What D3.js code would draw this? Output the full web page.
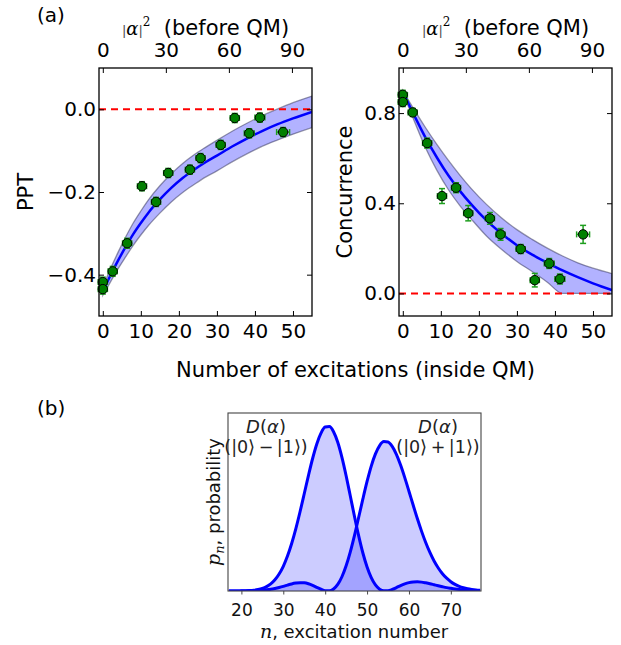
<!DOCTYPE html>
<html lang="en">
<head>
<meta charset="utf-8">
<title>Entanglement vs number of excitations</title>
<script src="https://cdnjs.cloudflare.com/ajax/libs/d3/7.8.5/d3.min.js"></script>
<style>
  body { margin: 0; background: #fff; }
  text { font-family: "DejaVu Sans", sans-serif; }
</style>
</head>
<body>
<script>
// ---- panel (a): measured points ----
const nExc   = [0, 0, 2.6, 6.4, 10.3, 14.0, 17.2, 22.9, 25.7, 31.0, 34.7, 38.5, 41.3, 47.4]
const nErr   = [1.2, 1.2, 1.2, 1.2, 1.2, 1.2, 1.2, 1.2, 1.2, 1.2, 1.2, 1.3, 1.3, 1.7]
const ppt    = [-0.418, -0.435, -0.392, -0.324, -0.186, -0.224, -0.154, -0.146, -0.118, -0.086, -0.021, -0.058, -0.020, -0.055]
const pptErr = [0.012, 0.012, 0.012, 0.012, 0.011, 0.011, 0.011, 0.011, 0.011, 0.011, 0.011, 0.011, 0.011, 0.011]
const conc   = [0.881, 0.849, 0.803, 0.667, 0.432, 0.469, 0.356, 0.333, 0.262, 0.197, 0.059, 0.133, 0.064, 0.262]
const concErr= [0.02, 0.02, 0.018, 0.022, 0.033, 0.022, 0.034, 0.026, 0.026, 0.02, 0.03, 0.022, 0.022, 0.04]

// fit curves and confidence bands
const pptFitN = [0, 2, 4, 6, 8, 10, 12, 15, 18, 21, 24, 27, 30, 34, 38, 42, 46, 50, 55]
const pptFit  = [-0.440, -0.402, -0.366, -0.333, -0.302, -0.275, -0.250, -0.218, -0.190, -0.166, -0.146, -0.128, -0.112, -0.090, -0.070, -0.052, -0.036, -0.022, -0.006]
const pptHi   = [-0.430, -0.386, -0.346, -0.309, -0.275, -0.246, -0.219, -0.185, -0.156, -0.131, -0.110, -0.092, -0.075, -0.053, -0.033, -0.015, 0.001, 0.016, 0.032]
const pptLo   = [-0.450, -0.418, -0.386, -0.357, -0.329, -0.304, -0.281, -0.251, -0.224, -0.201, -0.182, -0.164, -0.149, -0.127, -0.107, -0.089, -0.074, -0.060, -0.044]

const concFitN = [0, 3, 6, 9, 12, 15, 18, 22, 26, 30, 34, 38, 42, 46, 50, 55]
const concFit  = [0.895, 0.790, 0.690, 0.602, 0.523, 0.455, 0.395, 0.324, 0.265, 0.214, 0.172, 0.136, 0.102, 0.072, 0.045, 0.015]
const concHi   = [0.900, 0.815, 0.735, 0.660, 0.590, 0.525, 0.465, 0.395, 0.335, 0.283, 0.240, 0.201, 0.166, 0.136, 0.112, 0.088]
const concLo   = [0.890, 0.765, 0.645, 0.545, 0.460, 0.390, 0.330, 0.255, 0.195, 0.142, 0.097, 0.050, 0.000, 0.000, 0.000, 0.000]

const nDomain = [-1, 55]
const alphaSqPerN = 1.81
const bottomTicks = [0, 10, 20, 30, 40, 50]
const topTicks = [0, 30, 60, 90]

// ---- panel (b): photon number distributions ----
const pnN = d3.range(17, 78)
const pMinus = [0, 0, 0.001, 0.002, 0.003, 0.006, 0.012, 0.022, 0.039, 0.067, 0.110, 0.173, 0.263, 0.382, 0.540, 0.734, 0.964, 1.224, 1.502, 1.783, 2.047, 2.272, 2.439, 2.533, 2.541, 2.461, 2.297, 2.064, 1.780, 1.468, 1.151, 0.851, 0.587, 0.370, 0.206, 0.093, 0.028, 0.002, 0.004, 0.024, 0.053, 0.084, 0.110, 0.129, 0.139, 0.142, 0.137, 0.126, 0.113, 0.097, 0.081, 0.066, 0.052, 0.041, 0.031, 0.023, 0.017, 0.012, 0.008, 0.006, 0.004]
const pPlus  = [0, 0, 0, 0.001, 0.001, 0.002, 0.004, 0.007, 0.011, 0.018, 0.027, 0.040, 0.055, 0.072, 0.091, 0.109, 0.122, 0.129, 0.126, 0.112, 0.088, 0.057, 0.027, 0.005, 0.002, 0.031, 0.101, 0.220, 0.389, 0.605, 0.860, 1.139, 1.422, 1.692, 1.930, 2.118, 2.247, 2.308, 2.302, 2.233, 2.111, 1.946, 1.752, 1.542, 1.328, 1.119, 0.925, 0.749, 0.595, 0.464, 0.356, 0.267, 0.198, 0.144, 0.103, 0.072, 0.050, 0.034, 0.023, 0.015, 0.010]
const bTicks = [20, 30, 40, 50, 60, 70]

const svg = d3.select('body').append('svg')
    .attr('width', 621)
    .attr('height', 645)

const green = '#008000'
const errGreen = '#1e9e1e'

function scatterPanel(o) {
    const x = d3.scaleLinear().domain(nDomain).range([o.left, o.right])
    const xTop = d3.scaleLinear().domain(nDomain.map(d => d * alphaSqPerN)).range([o.left, o.right])
    const y = d3.scaleLinear().domain(o.yDomain).range([o.bottom, o.top])
    const g = svg.append('g')

    const clipId = 'clip' + o.id
    svg.append('clipPath').attr('id', clipId)
        .append('rect')
        .attr('x', o.left).attr('y', o.top)
        .attr('width', o.right - o.left).attr('height', o.bottom - o.top)
    const inner = g.append('g').attr('clip-path', `url(#${clipId})`)

    // confidence band
    const band = d3.area()
        .x(i => x(o.fitN[i]))
        .y0(i => y(o.lo[i]))
        .y1(i => y(o.hi[i]))
        .curve(d3.curveMonotoneX)
    inner.append('path')
        .datum(d3.range(o.fitN.length))
        .attr('d', band)
        .attr('fill', '#0000ff')
        .attr('fill-opacity', 0.3)
        .attr('stroke', '#202040')
        .attr('stroke-opacity', 0.45)
        .attr('stroke-width', 1.3)

    // zero line
    inner.append('line')
        .attr('x1', o.left).attr('x2', o.right)
        .attr('y1', y(0)).attr('y2', y(0))
        .attr('stroke', '#ff0000')
        .attr('stroke-width', 2)
        .attr('stroke-dasharray', '7,5')

    // fit line
    const line = d3.line()
        .x(i => x(o.fitN[i]))
        .y(i => y(o.fit[i]))
        .curve(d3.curveMonotoneX)
    inner.append('path')
        .datum(d3.range(o.fitN.length))
        .attr('d', line)
        .attr('fill', 'none')
        .attr('stroke', '#0000ff')
        .attr('stroke-width', 2.5)

    // error bars
    const idx = d3.range(nExc.length)
    const eb = g.append('g').attr('stroke', errGreen).attr('stroke-width', 1.5)
    idx.forEach(i => {
        const cx = x(nExc[i]), cy = y(o.vals[i])
        const x0 = x(nExc[i] - nErr[i]), x1 = x(nExc[i] + nErr[i])
        const y0 = y(o.vals[i] - o.errs[i]), y1 = y(o.vals[i] + o.errs[i])
        eb.append('line').attr('x1', x0).attr('x2', x1).attr('y1', cy).attr('y2', cy)
        eb.append('line').attr('x1', cx).attr('x2', cx).attr('y1', y0).attr('y2', y1)
        eb.append('line').attr('x1', x0).attr('x2', x0).attr('y1', cy - 3).attr('y2', cy + 3)
        eb.append('line').attr('x1', x1).attr('x2', x1).attr('y1', cy - 3).attr('y2', cy + 3)
        eb.append('line').attr('x1', cx - 3).attr('x2', cx + 3).attr('y1', y0).attr('y2', y0)
        eb.append('line').attr('x1', cx - 3).attr('x2', cx + 3).attr('y1', y1).attr('y2', y1)
    })

    // markers
    g.selectAll('.pt' + o.id)
        .data(idx)
        .enter()
        .append('circle')
        .attr('cx', i => x(nExc[i]))
        .attr('cy', i => y(o.vals[i]))
        .attr('r', 4.7)
        .attr('fill', green)
        .attr('stroke', '#000')
        .attr('stroke-width', 1)

    // axes, ticks pointing inward
    const styleAxis = a => {
        a.select('.domain').remove()
        a.attr('font-size', 20).attr('font-family', '"DejaVu Sans", sans-serif')
        a.selectAll('line').attr('stroke', '#000').attr('stroke-width', 1)
    }
    g.append('g').attr('transform', `translate(0,${o.bottom})`)
        .call(d3.axisBottom(x).tickValues(bottomTicks).tickSize(-5).tickPadding(8))
        .call(styleAxis)
    g.append('g').attr('transform', `translate(0,${o.top})`)
        .call(d3.axisTop(xTop).tickValues(topTicks).tickSize(-5).tickPadding(11))
        .call(styleAxis)
    g.append('g').attr('transform', `translate(${o.left},0)`)
        .call(d3.axisLeft(y).tickValues(o.yTicks).tickFormat(d3.format('.1f')).tickSize(-5).tickPadding(3))
        .call(styleAxis)
    g.append('g').attr('transform', `translate(${o.right},0)`)
        .call(d3.axisRight(y).tickValues(o.yTicks).tickFormat('').tickSize(-5))
        .call(styleAxis)

    g.append('rect')
        .attr('x', o.left).attr('y', o.top)
        .attr('width', o.right - o.left).attr('height', o.bottom - o.top)
        .attr('fill', 'none').attr('stroke', '#000').attr('stroke-width', 1.3)

    // top title |alpha|^2 (before QM)
    const t = g.append('text')
        .attr('x', (o.left + o.right) / 2).attr('y', 35)
        .attr('text-anchor', 'middle')
        .attr('font-size', 21)
    t.append('tspan').attr('font-family', '"DejaVu Serif", serif').attr('font-size', 13).attr('fill', '#444').text('|')
    t.append('tspan').attr('font-family', '"DejaVu Serif", serif').attr('font-style', 'italic').attr('font-size', 18).text('α')
    t.append('tspan').attr('font-family', '"DejaVu Serif", serif').attr('font-size', 13).attr('fill', '#444').text('|')
    t.append('tspan').attr('font-family', '"DejaVu Serif", serif').attr('font-size', 12).attr('dy', -9).text('2')
    t.append('tspan').attr('dy', 9).text('\u00a0\u00a0(before QM)')

    // y label
    g.append('text')
        .attr('transform', `translate(${o.ylabelX},${(o.top + o.bottom) / 2}) rotate(-90)`)
        .attr('text-anchor', 'middle')
        .attr('font-size', 21)
        .text(o.ylabel)
}

scatterPanel({
    id: 'L', left: 99, right: 312, top: 68, bottom: 316,
    yDomain: [-0.5, 0.1], yTicks: [-0.4, -0.2, 0.0],
    fitN: pptFitN, fit: pptFit, hi: pptHi, lo: pptLo,
    vals: ppt, errs: pptErr, ylabel: 'PPT', ylabelX: 33
})
scatterPanel({
    id: 'R', left: 399, right: 612, top: 68, bottom: 316,
    yDomain: [-0.1, 1.0], yTicks: [0.0, 0.4, 0.8],
    fitN: concFitN, fit: concFit, hi: concHi, lo: concLo,
    vals: conc, errs: concErr, ylabel: 'Concurrence', ylabelX: 352
})

svg.append('text').attr('x', 355.5).attr('y', 377).attr('text-anchor', 'middle')
    .attr('font-size', 21).text('Number of excitations (inside QM)')
svg.append('text').attr('x', 37).attr('y', 22).attr('font-size', 20).text('(a)')
svg.append('text').attr('x', 37).attr('y', 415).attr('font-size', 20).text('(b)')

// ---- panel (b) ----
const bl = 228, br = 481, bt = 413, bb = 591
const xb = d3.scaleLinear().domain([16.8, 77.2]).range([bl, br])
const yb = d3.scaleLinear().domain([0, 2.75]).range([bb, bt])
const gb = svg.append('g')

svg.append('clipPath').attr('id', 'clipB')
    .append('rect').attr('x', bl).attr('y', bt).attr('width', br - bl).attr('height', bb - bt)
const innerB = gb.append('g').attr('clip-path', 'url(#clipB)')

;[pMinus, pPlus].forEach(p => {
    const area = d3.area().x(i => xb(pnN[i])).y0(yb(0)).y1(i => yb(p[i])).curve(d3.curveMonotoneX)
    innerB.append('path').datum(d3.range(pnN.length)).attr('d', area)
        .attr('fill', '#0000ff').attr('fill-opacity', 0.2)
})
;[pMinus, pPlus].forEach(p => {
    const line = d3.line().x(i => xb(pnN[i])).y(i => yb(p[i])).curve(d3.curveMonotoneX)
    innerB.append('path').datum(d3.range(pnN.length)).attr('d', line)
        .attr('fill', 'none').attr('stroke', '#0000ff').attr('stroke-width', 3)
})

gb.append('g').attr('transform', `translate(0,${bb})`)
    .call(d3.axisBottom(xb).tickValues(bTicks).tickSize(3.5).tickPadding(9))
    .call(a => {
        a.select('.domain').remove()
        a.attr('font-size', 17).attr('font-family', '"DejaVu Sans", sans-serif')
        a.selectAll('line').attr('stroke', '#333').attr('stroke-width', 0.9)
        a.selectAll('text').attr('fill', '#111')
    })
gb.append('rect').attr('x', bl).attr('y', bt).attr('width', br - bl).attr('height', bb - bt)
    .attr('fill', 'none').attr('stroke', '#444').attr('stroke-width', 1.1)

const serif = '"DejaVu Serif", serif'
const annot = [
    { x: 266, sign: '−' },
    { x: 438, sign: '+' }
]
annot.forEach(a => {
    const t1 = gb.append('text').attr('x', a.x).attr('y', 433).attr('text-anchor', 'middle')
        .attr('font-family', serif).attr('font-size', 18).attr('fill', '#222')
    t1.append('tspan').attr('font-style', 'italic').text('D')
    t1.append('tspan').text('(')
    t1.append('tspan').attr('font-style', 'italic').text('α')
    t1.append('tspan').text(')')
    const t2 = gb.append('text').attr('x', a.x).attr('y', 453).attr('text-anchor', 'middle')
        .attr('font-family', serif).attr('font-size', 17.5).attr('fill', '#222')
    t2.append('tspan').text('(|0')
    t2.append('tspan').attr('font-family', '"DejaVu Sans", sans-serif').attr('font-weight', 300).text('\u27e9')
    t2.append('tspan').text('\u2009' + a.sign + '\u2009|1')
    t2.append('tspan').attr('font-family', '"DejaVu Sans", sans-serif').attr('font-weight', 300).text('\u27e9')
    t2.append('tspan').text(')')
})

const xl = gb.append('text').attr('x', 354).attr('y', 638).attr('text-anchor', 'middle')
    .attr('font-size', 18).attr('fill', '#111')
xl.append('tspan').attr('font-family', serif).attr('font-style', 'italic').attr('font-size', 19).text('n')
xl.append('tspan').text(', excitation number')

const yl = gb.append('text')
    .attr('transform', `translate(220,${(bt + bb) / 2}) rotate(-90)`)
    .attr('text-anchor', 'middle').attr('font-size', 18).attr('fill', '#111')
yl.append('tspan').attr('font-family', serif).attr('font-style', 'italic').attr('font-size', 19).text('p')
yl.append('tspan').attr('font-family', serif).attr('font-style', 'italic').attr('font-size', 13).attr('dy', 4).text('n')
yl.append('tspan').attr('dy', -4).text(', probability')
</script>
</body>
</html>
